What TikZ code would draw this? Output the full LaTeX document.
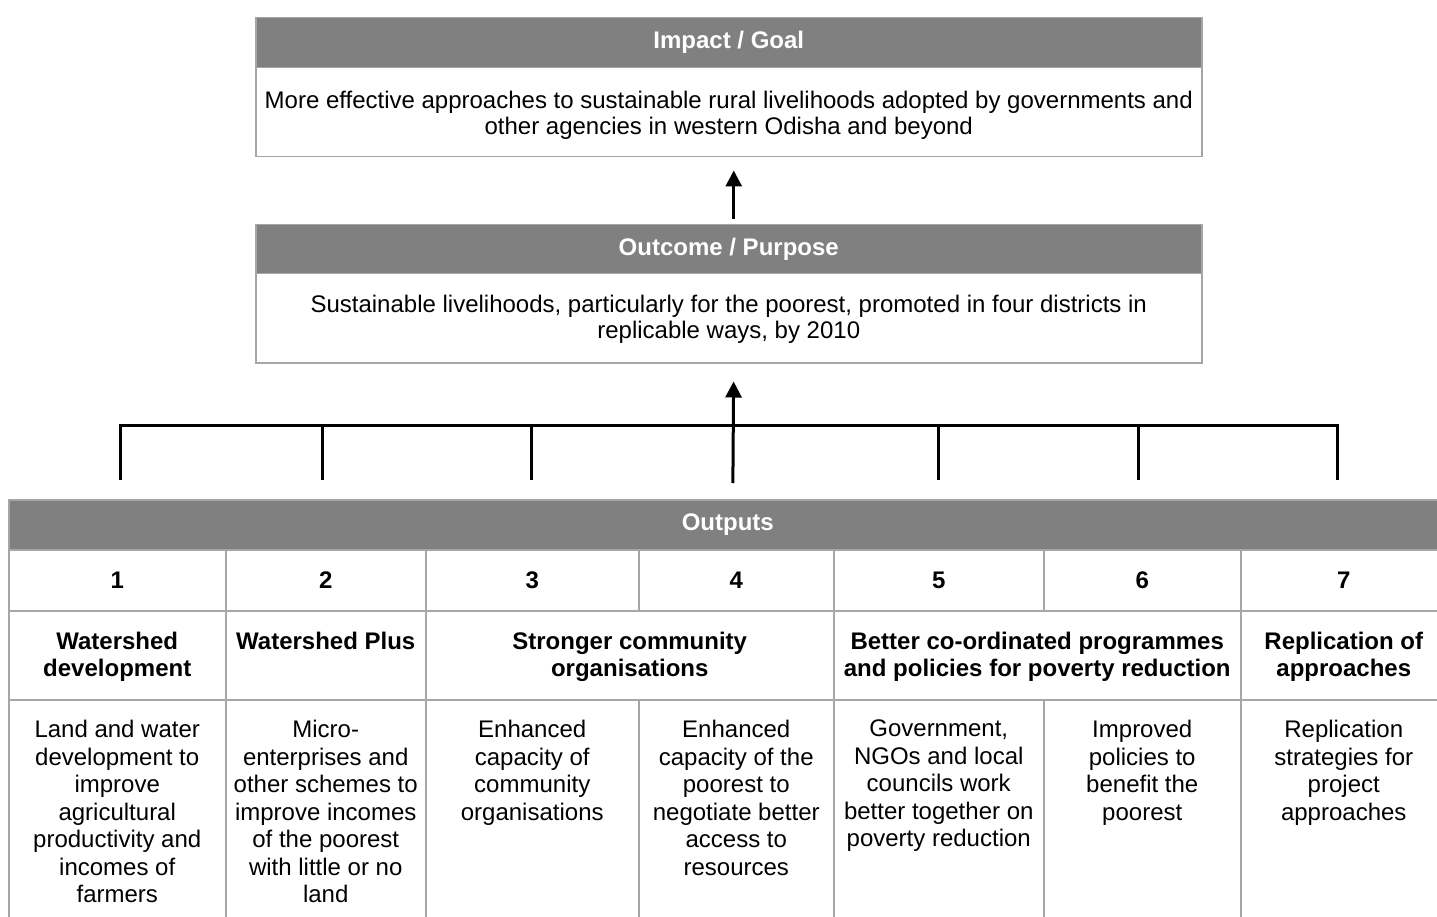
\documentclass[tikz,border=0pt]{standalone}
\usepackage{fontspec}
\setmainfont{Liberation Sans}
\usetikzlibrary{arrows.meta,positioning}
\definecolor{headgray}{HTML}{808080}
\definecolor{rulegray}{HTML}{A6A6A6}

\begin{document}
\begin{tikzpicture}[
    x=1pt, y=-1pt,
    every node/.style={font=\fontsize{24}{27.5}\selectfont},
    head/.style={draw=rulegray, line width=1.5pt, fill=headgray, text=white, anchor=north west, inner sep=0, font=\fontsize{24}{27.5}\selectfont\bfseries},
    box/.style={draw=rulegray, line width=1.5pt, fill=white, anchor=north west, inner sep=0},
    numbox/.style={box, font=\fontsize{24}{27.5}\selectfont\bfseries},
    textnode/.style={align=center, anchor=north, inner sep=0},
    toptext/.style={textnode, font=\fontsize{24}{26}\selectfont},
    topictext/.style={textnode, font=\fontsize{24}{27}\selectfont\bfseries},
    link/.style={draw, line width=3pt, -{Triangle[width=16pt,length=16pt]}},
    bar/.style={draw, line width=3pt}
    ]
    \useasboundingbox (0,0) rectangle (1437,917);
    \clip (0,0) rectangle (1437,917);

    % Impact box
    \node[head, minimum width=946pt, minimum height=50pt] (impacthead) at (255,17) {Impact / Goal};
    \node[box, minimum width=946pt, minimum height=89pt] (impactbody) at (255,67) {};
    \node[toptext] (impacttext) at ([yshift=-23.5pt]impactbody.north) {More effective approaches to sustainable rural livelihoods adopted by governments and\\other agencies in western Odisha and beyond};

    % Outcome box
    \node[head, minimum width=946pt, minimum height=49pt] (outcomehead) at (255,224) {Outcome / Purpose};
    \node[box, minimum width=946pt, minimum height=89pt] (outcomebody) at (255,273) {};
    \node[toptext] (outcometext) at ([yshift=-22pt]outcomebody.north) {Sustainable livelihoods, particularly for the poorest, promoted in four districts in\\replicable ways, by 2010};

    \draw[link, shorten <=5pt, shorten >=13pt] ([xshift=5pt]outcomehead.north) -- ([xshift=5pt]impactbody.south);

    % Outputs table
    \node[head, minimum width=1438pt, minimum height=50pt] (outputshead) at (8,499) {Outputs};

    \foreach \n/\l/\r in {1/8/225, 2/225/425, 3/425/638, 4/638/833, 5/833/1043, 6/1043/1240, 7/1240/1446}
        \node[numbox, minimum width=\r-\l, minimum height=61pt] (num\n) at (\l,549) {\n};

    \node[box, minimum width=217pt, minimum height=89pt] (topic1) at (8,610) {};
    \node[box, minimum width=200pt, minimum height=89pt] (topic2) at (225,610) {};
    \node[box, minimum width=408pt, minimum height=89pt] (topic3) at (425,610) {};
    \node[box, minimum width=407pt, minimum height=89pt] (topic4) at (833,610) {};
    \node[box, minimum width=206pt, minimum height=89pt] (topic5) at (1240,610) {};

    \node[topictext] at ([yshift=-22pt]topic1.north) {Watershed\\development};
    \node[topictext] at ([yshift=-22pt]topic2.north) {Watershed Plus};
    \node[topictext] at ([yshift=-22pt]topic3.north) {Stronger community\\organisations};
    \node[topictext] at ([yshift=-22pt]topic4.north) {Better co-ordinated programmes\\and policies for poverty reduction};
    \node[topictext] at ([yshift=-22pt]topic5.north) {Replication of\\approaches};

    \foreach \n/\l/\r in {1/8/225, 2/225/425, 3/425/638, 4/638/833, 5/833/1043, 6/1043/1240, 7/1240/1446}
        \node[box, minimum width=\r-\l, minimum height=240pt] (detail\n) at (\l,699) {};

    \node[textnode] at ([yshift=-21pt]detail1.north) {Land and water\\development to\\improve\\agricultural\\productivity and\\incomes of\\farmers};
    \node[textnode] at ([yshift=-21pt]detail2.north) {Micro-\\enterprises and\\other schemes to\\improve incomes\\of the poorest\\with little or no\\land};
    \node[textnode] at ([yshift=-21pt]detail3.north) {Enhanced\\capacity of\\community\\organisations};
    \node[textnode] at ([yshift=-21pt]detail4.north) {Enhanced\\capacity of the\\poorest to\\negotiate better\\access to\\resources};
    \node[textnode] at ([yshift=-21pt]detail5.north) {Government,\\NGOs and local\\councils work\\better together on\\poverty reduction};
    \node[textnode] at ([yshift=-21pt]detail6.north) {Improved\\policies to\\benefit the\\poorest};
    \node[textnode] at ([yshift=-21pt]detail7.north) {Replication\\strategies for\\project\\approaches};

    % Bracket joining the outputs
    \foreach \x [count=\i] in {120,322,531,938,1138,1337} {
        \coordinate (top\i) at (\x,425);
        \coordinate (foot\i) at (\x,480);
    }
    \draw[bar] (foot1) -- (top1) -- (top6) -- (foot6);
    \foreach \i in {2,3,4,5}
        \draw[bar] (top\i) -- (foot\i);

    \draw[link, shorten <=16pt, shorten >=18pt] ([xshift=5pt]outputshead.north) -- ([xshift=5pt]outcomebody.south);

\end{tikzpicture}
\end{document}
